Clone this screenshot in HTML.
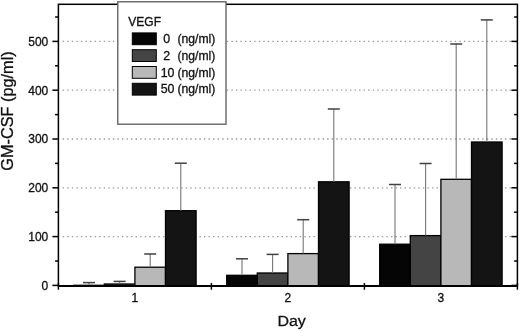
<!DOCTYPE html>
<html><head><meta charset="utf-8"><style>
html,body{margin:0;padding:0;background:#fff;}
svg{display:block;filter:grayscale(1);}
text{font-family:"Liberation Sans",sans-serif;fill:#111;stroke:#111;stroke-width:0.3px;}
</style></head><body>
<svg width="520" height="333" viewBox="0 0 520 333">
<rect x="0" y="0" width="520" height="333" fill="#fff"/>
<line x1="62.65" y1="236.60" x2="511.4" y2="236.60" stroke="#999999" stroke-width="1.3" stroke-dasharray="1.4 3.16"/>
<line x1="62.65" y1="187.80" x2="511.4" y2="187.80" stroke="#999999" stroke-width="1.3" stroke-dasharray="1.4 3.16"/>
<line x1="62.65" y1="139.00" x2="511.4" y2="139.00" stroke="#999999" stroke-width="1.3" stroke-dasharray="1.4 3.16"/>
<line x1="62.65" y1="90.20" x2="511.4" y2="90.20" stroke="#999999" stroke-width="1.3" stroke-dasharray="1.4 3.16"/>
<line x1="62.65" y1="41.40" x2="511.4" y2="41.40" stroke="#999999" stroke-width="1.3" stroke-dasharray="1.4 3.16"/>
<rect x="73.70" y="285.30" width="30.60" height="0.70" fill="#050505" stroke="#000" stroke-width="1.3"/>
<rect x="104.30" y="284.00" width="30.60" height="2.00" fill="#444444" stroke="#000" stroke-width="1.3"/>
<rect x="134.90" y="267.20" width="30.60" height="18.80" fill="#b8b8b8" stroke="#000" stroke-width="1.3"/>
<rect x="165.50" y="210.70" width="30.60" height="75.30" fill="#141414" stroke="#000" stroke-width="1.3"/>
<rect x="226.70" y="275.30" width="30.60" height="10.70" fill="#050505" stroke="#000" stroke-width="1.3"/>
<rect x="257.30" y="273.00" width="30.60" height="13.00" fill="#444444" stroke="#000" stroke-width="1.3"/>
<rect x="287.90" y="253.60" width="30.60" height="32.40" fill="#b8b8b8" stroke="#000" stroke-width="1.3"/>
<rect x="318.50" y="181.80" width="30.60" height="104.20" fill="#141414" stroke="#000" stroke-width="1.3"/>
<rect x="379.70" y="244.20" width="30.60" height="41.80" fill="#050505" stroke="#000" stroke-width="1.3"/>
<rect x="410.30" y="235.60" width="30.60" height="50.40" fill="#444444" stroke="#000" stroke-width="1.3"/>
<rect x="440.90" y="179.30" width="30.60" height="106.70" fill="#b8b8b8" stroke="#000" stroke-width="1.3"/>
<rect x="471.50" y="142.00" width="30.60" height="144.00" fill="#141414" stroke="#000" stroke-width="1.3"/>
<line x1="89.00" y1="285.30" x2="89.00" y2="282.60" stroke="#767676" stroke-width="1.1"/>
<line x1="83.00" y1="282.60" x2="95.00" y2="282.60" stroke="#404040" stroke-width="1.5"/>
<line x1="119.60" y1="284.00" x2="119.60" y2="281.40" stroke="#767676" stroke-width="1.1"/>
<line x1="113.60" y1="281.40" x2="125.60" y2="281.40" stroke="#404040" stroke-width="1.5"/>
<line x1="150.20" y1="267.20" x2="150.20" y2="254.00" stroke="#767676" stroke-width="1.1"/>
<line x1="144.20" y1="254.00" x2="156.20" y2="254.00" stroke="#404040" stroke-width="1.5"/>
<line x1="180.80" y1="210.70" x2="180.80" y2="163.20" stroke="#767676" stroke-width="1.1"/>
<line x1="174.80" y1="163.20" x2="186.80" y2="163.20" stroke="#404040" stroke-width="1.5"/>
<line x1="242.00" y1="275.30" x2="242.00" y2="258.80" stroke="#767676" stroke-width="1.1"/>
<line x1="236.00" y1="258.80" x2="248.00" y2="258.80" stroke="#404040" stroke-width="1.5"/>
<line x1="272.60" y1="273.00" x2="272.60" y2="254.40" stroke="#767676" stroke-width="1.1"/>
<line x1="266.60" y1="254.40" x2="278.60" y2="254.40" stroke="#404040" stroke-width="1.5"/>
<line x1="303.20" y1="253.60" x2="303.20" y2="219.70" stroke="#767676" stroke-width="1.1"/>
<line x1="297.20" y1="219.70" x2="309.20" y2="219.70" stroke="#404040" stroke-width="1.5"/>
<line x1="333.80" y1="181.80" x2="333.80" y2="109.00" stroke="#767676" stroke-width="1.1"/>
<line x1="327.80" y1="109.00" x2="339.80" y2="109.00" stroke="#404040" stroke-width="1.5"/>
<line x1="395.00" y1="244.20" x2="395.00" y2="184.50" stroke="#767676" stroke-width="1.1"/>
<line x1="389.00" y1="184.50" x2="401.00" y2="184.50" stroke="#404040" stroke-width="1.5"/>
<line x1="425.60" y1="235.60" x2="425.60" y2="163.50" stroke="#767676" stroke-width="1.1"/>
<line x1="419.60" y1="163.50" x2="431.60" y2="163.50" stroke="#404040" stroke-width="1.5"/>
<line x1="456.20" y1="179.30" x2="456.20" y2="44.00" stroke="#767676" stroke-width="1.1"/>
<line x1="450.20" y1="44.00" x2="462.20" y2="44.00" stroke="#404040" stroke-width="1.5"/>
<line x1="486.80" y1="142.00" x2="486.80" y2="19.90" stroke="#767676" stroke-width="1.1"/>
<line x1="480.80" y1="19.90" x2="492.80" y2="19.90" stroke="#404040" stroke-width="1.5"/>
<rect x="58.4" y="4.3" width="459.00" height="281.70" fill="none" stroke="#000" stroke-width="1.5"/>
<line x1="58.4" y1="286.0" x2="517.4" y2="286.0" stroke="#000" stroke-width="1.9"/>
<line x1="52.4" y1="285.40" x2="58.4" y2="285.40" stroke="#000" stroke-width="1.5"/>
<line x1="511.4" y1="285.40" x2="517.4" y2="285.40" stroke="#000" stroke-width="1.5"/>
<line x1="55.1" y1="261.00" x2="58.4" y2="261.00" stroke="#000" stroke-width="1.5"/>
<line x1="514.1" y1="261.00" x2="517.4" y2="261.00" stroke="#000" stroke-width="1.5"/>
<line x1="52.4" y1="236.60" x2="58.4" y2="236.60" stroke="#000" stroke-width="1.5"/>
<line x1="511.4" y1="236.60" x2="517.4" y2="236.60" stroke="#000" stroke-width="1.5"/>
<line x1="55.1" y1="212.20" x2="58.4" y2="212.20" stroke="#000" stroke-width="1.5"/>
<line x1="514.1" y1="212.20" x2="517.4" y2="212.20" stroke="#000" stroke-width="1.5"/>
<line x1="52.4" y1="187.80" x2="58.4" y2="187.80" stroke="#000" stroke-width="1.5"/>
<line x1="511.4" y1="187.80" x2="517.4" y2="187.80" stroke="#000" stroke-width="1.5"/>
<line x1="55.1" y1="163.40" x2="58.4" y2="163.40" stroke="#000" stroke-width="1.5"/>
<line x1="514.1" y1="163.40" x2="517.4" y2="163.40" stroke="#000" stroke-width="1.5"/>
<line x1="52.4" y1="139.00" x2="58.4" y2="139.00" stroke="#000" stroke-width="1.5"/>
<line x1="511.4" y1="139.00" x2="517.4" y2="139.00" stroke="#000" stroke-width="1.5"/>
<line x1="55.1" y1="114.60" x2="58.4" y2="114.60" stroke="#000" stroke-width="1.5"/>
<line x1="514.1" y1="114.60" x2="517.4" y2="114.60" stroke="#000" stroke-width="1.5"/>
<line x1="52.4" y1="90.20" x2="58.4" y2="90.20" stroke="#000" stroke-width="1.5"/>
<line x1="511.4" y1="90.20" x2="517.4" y2="90.20" stroke="#000" stroke-width="1.5"/>
<line x1="55.1" y1="65.80" x2="58.4" y2="65.80" stroke="#000" stroke-width="1.5"/>
<line x1="514.1" y1="65.80" x2="517.4" y2="65.80" stroke="#000" stroke-width="1.5"/>
<line x1="52.4" y1="41.40" x2="58.4" y2="41.40" stroke="#000" stroke-width="1.5"/>
<line x1="511.4" y1="41.40" x2="517.4" y2="41.40" stroke="#000" stroke-width="1.5"/>
<line x1="55.1" y1="17.00" x2="58.4" y2="17.00" stroke="#000" stroke-width="1.5"/>
<line x1="514.1" y1="17.00" x2="517.4" y2="17.00" stroke="#000" stroke-width="1.5"/>
<line x1="58.40" y1="283" x2="58.40" y2="289.7" stroke="#000" stroke-width="1.5"/>
<line x1="211.40" y1="283" x2="211.40" y2="289.7" stroke="#000" stroke-width="1.5"/>
<line x1="364.40" y1="283" x2="364.40" y2="289.7" stroke="#000" stroke-width="1.5"/>
<line x1="517.40" y1="283" x2="517.40" y2="289.7" stroke="#000" stroke-width="1.5"/>
<text x="48.3" y="289.70" text-anchor="end" font-size="12">0</text>
<text x="48.3" y="240.90" text-anchor="end" font-size="12">100</text>
<text x="48.3" y="192.10" text-anchor="end" font-size="12">200</text>
<text x="48.3" y="143.30" text-anchor="end" font-size="12">300</text>
<text x="48.3" y="94.50" text-anchor="end" font-size="12">400</text>
<text x="48.3" y="45.70" text-anchor="end" font-size="12">500</text>
<text x="134.90" y="301.8" text-anchor="middle" font-size="12">1</text>
<text x="287.90" y="301.8" text-anchor="middle" font-size="12">2</text>
<text x="440.90" y="301.8" text-anchor="middle" font-size="12">3</text>
<text transform="translate(291.6,326.4) scale(1,0.89)" text-anchor="middle" font-size="16">Day</text>
<text transform="translate(13.4,111) rotate(-90)" text-anchor="middle" font-size="16.3">GM-CSF (pg/ml)</text>
<rect x="117.8" y="1.8" width="108.2" height="122.4" fill="#fff" stroke="#5a5a5a" stroke-width="1.3"/>
<text x="128.3" y="25.9" font-size="12">VEGF</text>
<rect x="132.3" y="32.90" width="24" height="11.8" fill="#050505" stroke="#000" stroke-width="1"/>
<text x="163.3" y="42.90" font-size="12.4">0</text>
<text x="177.4" y="42.90" font-size="12.2">(ng/ml)</text>
<rect x="132.3" y="49.70" width="24" height="11.8" fill="#444444" stroke="#000" stroke-width="1"/>
<text x="163.3" y="59.70" font-size="12.4">2</text>
<text x="177.4" y="59.70" font-size="12.2">(ng/ml)</text>
<rect x="132.3" y="66.50" width="24" height="11.8" fill="#b8b8b8" stroke="#000" stroke-width="1"/>
<text x="160.7" y="76.50" font-size="12.4">10</text>
<text x="177.4" y="76.50" font-size="12.2">(ng/ml)</text>
<rect x="132.3" y="83.30" width="24" height="11.8" fill="#141414" stroke="#000" stroke-width="1"/>
<text x="160.7" y="93.30" font-size="12.4">50</text>
<text x="177.4" y="93.30" font-size="12.2">(ng/ml)</text>
</svg>
</body></html>
